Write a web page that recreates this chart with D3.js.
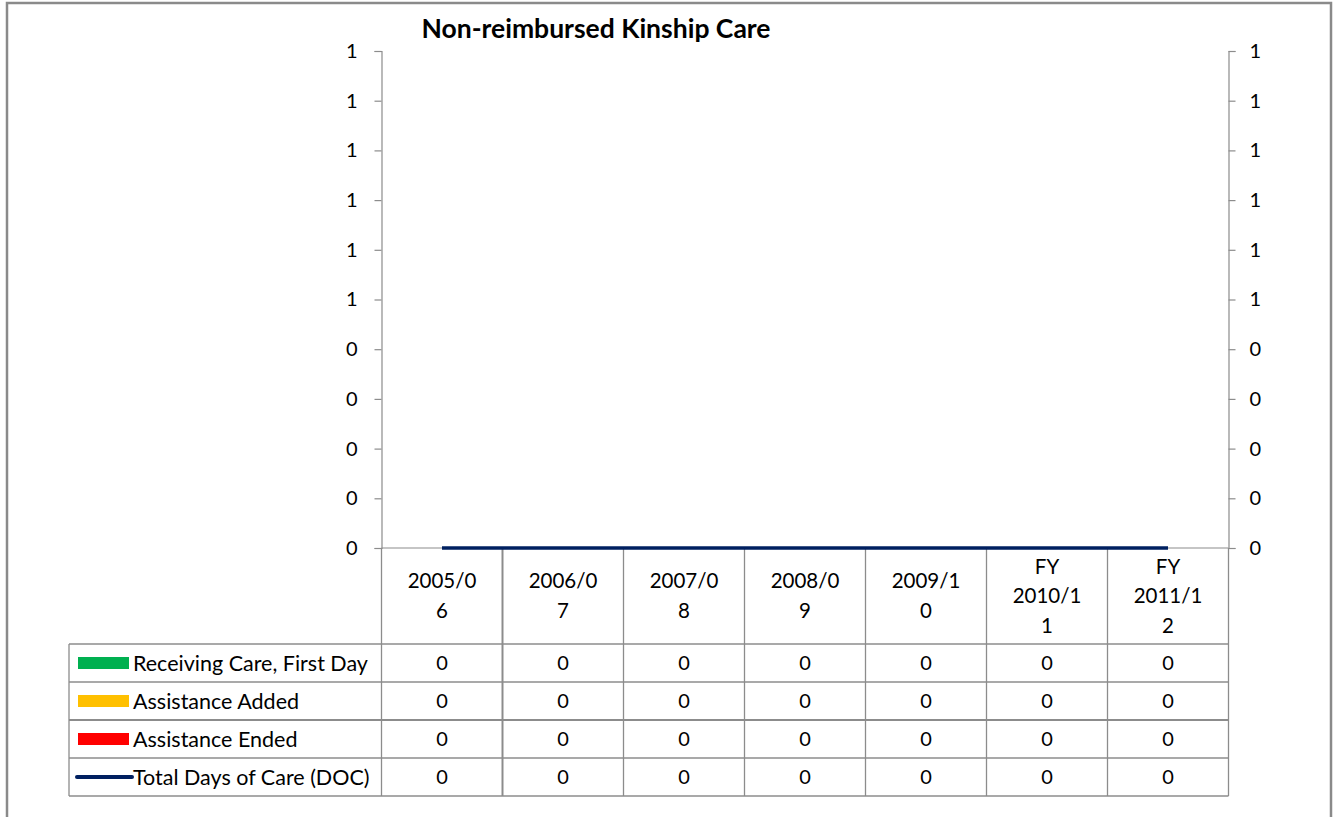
<!DOCTYPE html>
<html>
<head>
<meta charset="utf-8">
<script src="https://cdn.jsdelivr.net/npm/d3@7"></script>
<style>
    body { margin: 0; background: #fff; }
    svg text { font-family: Lato, 'Open Sans', sans-serif; fill: #000; }
</style>
</head>
<body>
<svg id="chart" width="1337" height="817"></svg>
<script>

// Chart data
var title = 'Non-reimbursed Kinship Care';
var categories = [['2005/0','6'], ['2006/0','7'], ['2007/0','8'], ['2008/0','9'], ['2009/1','0'], ['FY','2010/1','1'], ['FY','2011/1','2']];
var seriesNames = ['Receiving Care, First Day', 'Assistance Added', 'Assistance Ended', 'Total Days of Care (DOC)'];
var receivingCare = [0, 0, 0, 0, 0, 0, 0];
var assistanceAdded = [0, 0, 0, 0, 0, 0, 0];
var assistanceEnded = [0, 0, 0, 0, 0, 0, 0];
var totalDays = [0, 0, 0, 0, 0, 0, 0];
var yTicks = [0, 0.1, 0.2, 0.3, 0.4, 0.5, 0.6, 0.7, 0.8, 0.9, 1];

var seriesColors = ['#00b050', '#ffc000', '#ff0000', '#002060'];
var allSeries = [receivingCare, assistanceAdded, assistanceEnded, totalDays];

var margin = { top: 51, left: 381.5, right: 108.5, bottom: 269 };
var width = 1337, height = 817;
var gridColor = '#8c8c8c';

var svg = d3.select('#chart');

// outer frame
svg.append('rect')
    .attr('x', 7).attr('y', 3)
    .attr('width', 1324).attr('height', 830)
    .attr('fill', 'none')
    .attr('stroke', '#8a8a8a')
    .attr('stroke-width', 2.5)

var x = d3.scaleBand()
    .domain(d3.range(categories.length))
    .range([margin.left, width - margin.right]);

var y = d3.scaleLinear()
    .domain([0, 1])
    .range([height - margin.bottom, margin.top]);

var fmt = function(d) { return String(Math.round(d)); };

// title
svg.append('text')
    .attr('x', 596).attr('y', 38)
    .attr('text-anchor', 'middle')
    .style('font-size', '26.5px')
    .style('font-weight', 'bold')
    .text(title)

// left axis
var leftAxis = svg.append('g')
    .attr('transform', 'translate(' + margin.left + ',0)')
    .call(d3.axisLeft(y).tickValues(yTicks).tickFormat(fmt).tickSize(7).tickPadding(17))
leftAxis.select('.domain').attr('stroke', gridColor).attr('stroke-width', 1.2)
leftAxis.selectAll('.tick line').attr('stroke', gridColor).attr('stroke-width', 1.2)
leftAxis.selectAll('.tick text').style('font-size', '20px').style('font-family', 'Lato, sans-serif')

// right axis
var rightAxis = svg.append('g')
    .attr('transform', 'translate(' + (width - margin.right) + ',0)')
    .call(d3.axisRight(y).tickValues(yTicks).tickFormat(fmt).tickSize(7).tickPadding(14))
rightAxis.select('.domain').attr('stroke', gridColor).attr('stroke-width', 1.2)
rightAxis.selectAll('.tick line').attr('stroke', gridColor).attr('stroke-width', 1.2)
rightAxis.selectAll('.tick text').style('font-size', '20px').style('font-family', 'Lato, sans-serif')

// stacked columns (all zero here, so they have no height)
var stackRows = categories.map(function(c, i) {
    return { a: receivingCare[i], b: assistanceAdded[i], c: assistanceEnded[i] };
});
var stacked = d3.stack().keys(['a', 'b', 'c'])(stackRows);
var barWidth = x.bandwidth() * 0.55;
stacked.forEach(function(layer, k) {
    svg.append('g').selectAll('rect')
        .data(layer)
        .enter().append('rect')
            .attr('x', function(d, i) { return x(i) + (x.bandwidth() - barWidth) / 2; })
            .attr('y', function(d) { return y(d[1]); })
            .attr('width', barWidth)
            .attr('height', function(d) { return y(d[0]) - y(d[1]); })
            .attr('fill', seriesColors[k])
});

// table grid
var headerTop = y(0);
var rowTop = 644;
var rowHeight = 38;
var tableBottom = rowTop + rowHeight * seriesNames.length;
var legendLeft = 69;
var grid = svg.append('g').attr('class', 'table-grid');

// horizontal lines
grid.append('line')
    .attr('x1', margin.left).attr('x2', width - margin.right)
    .attr('y1', headerTop).attr('y2', headerTop)
    .attr('stroke', gridColor).attr('stroke-width', 1.2)
for (var r = 0; r <= seriesNames.length; r++) {
    grid.append('line')
        .attr('x1', legendLeft).attr('x2', width - margin.right)
        .attr('y1', rowTop + r * rowHeight).attr('y2', rowTop + r * rowHeight)
        .attr('stroke', gridColor)
        .attr('stroke-width', r == 2 ? 2 : 1.3)
}

// vertical lines
for (var i = 0; i <= categories.length; i++) {
    var xx = i < categories.length ? x(i) : x(i - 1) + x.bandwidth();
    grid.append('line')
        .attr('x1', xx).attr('x2', xx)
        .attr('y1', headerTop).attr('y2', tableBottom)
        .attr('stroke', gridColor)
        .attr('stroke-width', (i == 1) ? 2 : 1.3)
}
grid.append('line')
    .attr('x1', legendLeft).attr('x2', legendLeft)
    .attr('y1', rowTop).attr('y2', tableBottom)
    .attr('stroke', gridColor).attr('stroke-width', 1.3)

// category labels in the header row
var lineHeight = 29.5;
var headerMid = (headerTop + rowTop) / 2;
categories.forEach(function(lines, i) {
    var t = svg.append('text')
        .attr('text-anchor', 'middle')
        .style('font-size', '20.5px')
    lines.forEach(function(line, j) {
        t.append('tspan')
            .attr('x', x(i) + x.bandwidth() / 2)
            .attr('y', headerMid + (j - (lines.length - 1) / 2) * lineHeight + 7)
            .text(line)
    });
});

// table rows: legend key, name and values
seriesNames.forEach(function(name, k) {
    var cy = rowTop + k * rowHeight + rowHeight / 2;

    if (k < 3) {
        svg.append('rect')
            .attr('x', 78).attr('y', cy - 6)
            .attr('width', 51).attr('height', 12)
            .attr('fill', seriesColors[k])
    } else {
        svg.append('line')
            .attr('x1', 77).attr('x2', 132)
            .attr('y1', cy).attr('y2', cy)
            .attr('stroke', seriesColors[k])
            .attr('stroke-width', 4)
            .attr('stroke-linecap', 'round')
    }

    svg.append('text')
        .attr('x', 133)
        .attr('y', cy + 7.5)
        .style('font-size', '21.5px')
        .text(name)

    allSeries[k].forEach(function(v, i) {
        svg.append('text')
            .attr('x', x(i) + x.bandwidth() / 2)
            .attr('y', cy + 7)
            .attr('text-anchor', 'middle')
            .style('font-size', '20px')
            .text(v)
    });
});

// Total days of care as a line
var line = d3.line()
    .x(function(d, i) { return x(i) + x.bandwidth() / 2; })
    .y(function(d) { return y(d); });

svg.append('path')
    .datum(totalDays)
    .attr('d', line)
    .attr('fill', 'none')
    .attr('stroke', seriesColors[3])
    .attr('stroke-width', 3.5)

</script>
</body>
</html>
